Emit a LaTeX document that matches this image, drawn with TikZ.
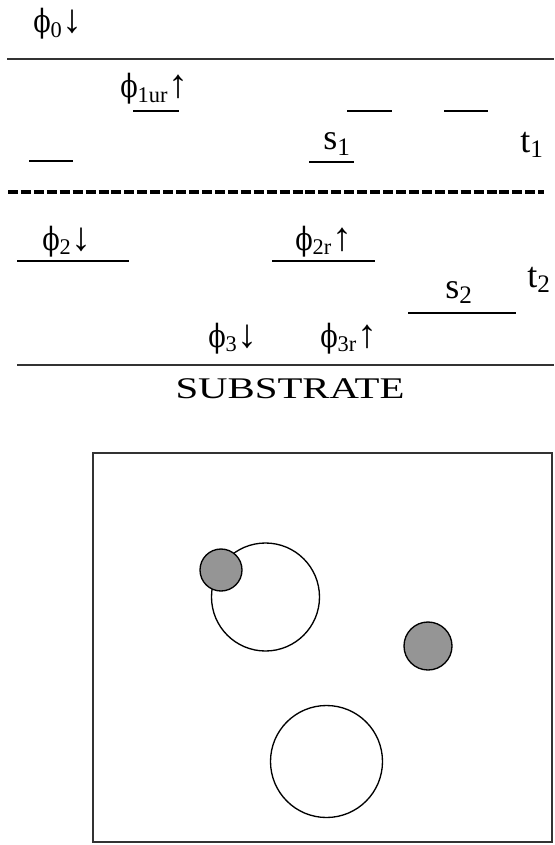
\documentclass[tikz,border=0pt]{standalone}
\usepackage{fontspec}
\setmainfont{Liberation Serif}
\newfontfamily\grk{DejaVu Serif}
\usetikzlibrary{positioning}
\definecolor{dot}{HTML}{959595}
\newcommand{\ph}{{\grk\addfontfeature{FakeStretch=0.8}ϕ}}
\newcommand{\dn}{{\fontsize{30}{30}\selectfont↓}}
\newcommand{\upa}{{\fontsize{30}{30}\selectfont↑}}

\begin{document}
\begin{tikzpicture}[x=0.75pt, y=-0.75pt,
    lbl/.style={inner sep=0pt, anchor=base west, font=\fontsize{24}{24}\selectfont},
    big/.style={inner sep=0pt, anchor=base west, font=\fontsize{27}{27}\selectfont},
    lvl/.style={line width=1.1pt}]
\useasboundingbox (0,0) rectangle (554,845);
\draw[line width=1.3pt, black!80] (7,59) -- (554,59);
\draw[line width=2.4pt, dash pattern=on 7.5pt off 2.2pt] (8,192) -- (544,192);
\draw[line width=1.3pt, black!80] (17,365) -- (554,365);
\foreach \a/\b/\h in {133/179/111, 29/73/161, 347/392/111, 444/488/111,
                      309/354/162, 17/129/261, 272/375/261, 408/516/313}
    \draw[lvl] (\a,\h) -- (\b,\h);
\node[lbl] (phi0) at (33,33) {\ph\textsubscript{0}\dn};
\node[lbl] (phi1) at (120,98) {\ph\textsubscript{1ur}\upa};
\node[lbl] (phi2) at (42,250) {\ph\textsubscript{2}\dn};
\node[lbl] (phi2r) at (295,250) {\ph\textsubscript{2r}\upa};
\node[lbl] (phi3) at (208,347) {\ph\textsubscript{3}\dn};
\node[lbl] (phi3r) at (320,347) {\ph\textsubscript{3r}\upa};
\node[big] (s1) at (323,150) {s\textsubscript{1}};
\node[big] (t1) at (520,152) {t\textsubscript{1}};
\node[big] (s2) at (445,298) {s\textsubscript{2}};
\node[big] (t2) at (527,287) {t\textsubscript{2}};
\node[inner sep=0pt, anchor=base, xscale=1.36, font=\fontsize{22.5}{22.5}\selectfont] (sub) at (290,398) {SUBSTRATE};
\draw[line width=1.5pt, black!80] (93,453) rectangle (552,842);
\draw[line width=1pt] (265.5,597) circle[radius=54];
\draw[line width=1pt] (326.5,761.5) circle[radius=56];
\fill[dot, draw=black, line width=1pt] (221,570) circle[radius=21];
\fill[dot, draw=black, line width=1pt] (428,646) circle[radius=24];
\end{tikzpicture}
\end{document}
